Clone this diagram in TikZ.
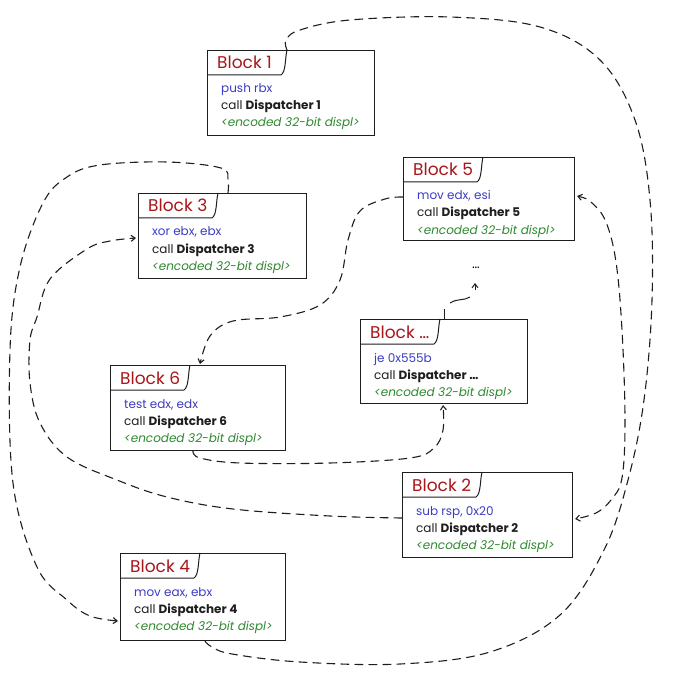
\documentclass[tikz,border=0pt]{standalone}
\usepackage{fontspec}
\setmainfont{Poppins}
\usetikzlibrary{arrows.meta,calc}
\definecolor{tred}{HTML}{A8161A}
\definecolor{tblue}{HTML}{3C3CC4}
\definecolor{tgreen}{HTML}{2E8A2E}
\definecolor{tink}{HTML}{1E1E1E}
\newcommand\Blk[8]{%
  \node[blk, minimum width=#4pt, minimum height=#5pt, anchor=north west] (#1) at (#2,#3) {};
  \draw[tabl] ($(#1.north west)+(0,25)$) -- ($(#1.north west)+(74,25)$)
     .. controls ($(#1.north west)+(79,22)$) and ($(#1.north west)+(78,8)$) .. ($(#1.north west)+(80,0)$);
  \node[ttl] (#1-t) at ($(#1.north west)+(10,19)$) {Block #6};
  \node[ins] (#1-i) at ($(#1.north west)+(14,43)$) {#7};
  \node[cll] (#1-c) at ($(#1.north west)+(14,60)$) {call \textbf{Dispatcher #8}};
  \node[enc] (#1-e) at ($(#1.north west)+(14,77)$) {<encoded 32-bit displ>};
}
\begin{document}
\begin{tikzpicture}[x=1pt,y=-1pt,
  blk/.style={draw=tink, line width=1.1pt, fill=white, inner sep=0pt},
  tabl/.style={draw=tink, line width=1pt},
  ttl/.style={anchor=base west, inner sep=0pt, text=tred, font=\fontsize{17}{19}\selectfont},
  ins/.style={anchor=base west, inner sep=0pt, text=tblue, font=\fontsize{12}{13}\selectfont},
  cll/.style={anchor=base west, inner sep=0pt, text=tink, font=\fontsize{12}{13}\selectfont},
  enc/.style={anchor=base west, inner sep=0pt, text=tgreen, font=\fontsize{12}{13}\selectfont\itshape},
  conn/.style={draw=tink, line width=1.1pt, dash pattern=on 8pt off 6pt, line cap=round},
  >={Straight Barb[length=4pt,width=6pt]}]
\useasboundingbox[fill=white] (0,0) rectangle (680,679);

\Blk{b1}{207}{50}{167}{85}{1}{push rbx}{1}
\Blk{b3}{138}{193}{168}{85}{3}{xor ebx, ebx}{3}
\Blk{b5}{403}{157}{171}{83}{5}{mov edx, esi}{5}
\Blk{b6}{110}{365}{175}{85}{6}{test edx, edx}{6}
\Blk{bx}{360}{319}{167}{84}{…}{je 0x555b}{…}
\Blk{b2}{402}{472}{170}{85}{2}{sub rsp, 0x20}{2}
\Blk{b4}{120}{553}{165}{87}{4}{mov eax, ebx}{4}

\node[inner sep=0pt, font=\fontsize{13}{13}\selectfont] (dots) at (476,268) {…};

% named endpoints
\coordinate (b1top) at ($(b1.north west)+(80,0)$);
\coordinate (b4bot) at ($(b4.south west)+(85,0)$);
\coordinate (b5r) at ($(b5.north east)+(2,39)$);
\coordinate (b2r) at ($(b2.north east)+(2,47)$);
\coordinate (b2l) at ($(b2.north west)+(0,46)$);
\coordinate (b3l) at ($(b3.north west)+(-2,45)$);
\coordinate (b3top) at ($(b3.north west)+(90,0)$);
\coordinate (b4l) at ($(b4.north west)+(-2,68)$);
\coordinate (b5l) at ($(b5.north west)+(0,40)$);
\coordinate (b6top) at ($(b6.north west)+(90,-1)$);
\coordinate (b6bot) at ($(b6.south west)+(83,0)$);
\coordinate (bxbot) at ($(bx.south west)+(83,1)$);
\coordinate (bxtop) at ($(bx.north west)+(84,0)$);
\coordinate (dotsin) at (475,283);

% outer: Block 1 <-> Block 4 around the right side
\draw[conn] plot[smooth, tension=0.6] coordinates {(b1top) (286,40) (300,30) (350,20) (450,17) (540,27) (600,60) (635,120) (650,200) (652,300) (644,400) (628,480) (604,550) (560,615) (490,652) (400,664) (300,662) (232,654) (212,647) (b4bot)};

% inner right: Block 5 <-> Block 2
\draw[conn,<->] plot[smooth, tension=0.6] coordinates {(b5r) (592,203) (606,222) (616,262) (622,330) (625,420) (622,478) (611,500) (596,513) (b2r)};

% Block 2 -> Block 3
\draw[conn,->] plot[smooth, tension=0.6] coordinates {(b2l) (330,516) (233,509) (167,497) (117,480) (67,457) (40,423) (30,383) (30,340) (37,317) (50,279) (87,249) (110,241) (b3l)};

% Block 3 -> Block 4
\draw[conn,->] plot[smooth, tension=0.6] coordinates {(b3top) (228,180) (221,168) (167,162) (100,165) (67,177) (43,203) (20,267) (10,350) (13,483) (37,567) (67,600) (90,616) (b4l)};

% Block 5 -> Block 6
\draw[conn,->] plot[smooth, tension=0.6] coordinates {(b5l) (385,199) (360,211) (348,240) (340,280) (320,305) (280,317) (233,321) (210,336) (b6top)};

% Block 6 -> Block ...
\draw[conn,->] plot[smooth, tension=0.6] coordinates {(b6bot) (200,458) (240,463) (330,463) (410,458) (434,448) (443,430) (bxbot)};

% Block ... -> ...
\draw[tabl] (bxtop) -- ++(0,-10);
\draw[tabl] (450,303) .. controls (458,298) and (464,301) .. (470,297);
\draw[tabl,->] (475,290) -- (dotsin);
\end{tikzpicture}
\end{document}
